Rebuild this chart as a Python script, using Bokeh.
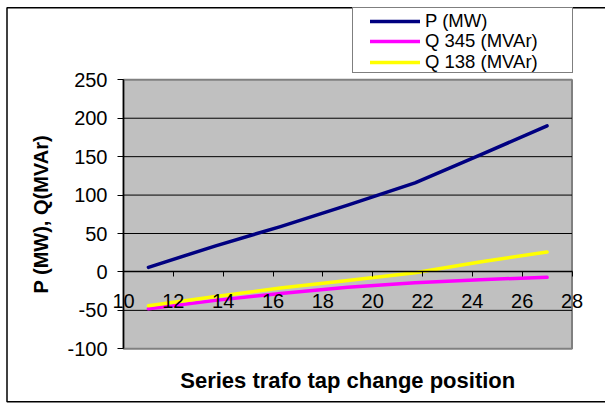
import math
from bokeh.plotting import figure
from bokeh.models import Range1d, FixedTicker, Legend, LegendItem, Label
from bokeh.embed import file_html
from bokeh.resources import INLINE

# ---- data ----
tap = [11, 13.7, 16.3, 19, 21.7, 24.3, 27]
p_mw = [6, 34, 59, 87, 116, 152, 190]
q345 = [-48, -37, -28, -20, -14, -10, -7]
q138 = [-44, -32, -21, -11, -1, 13, 26]
x_ticks = [10, 12, 14, 16, 18, 20, 22, 24, 26, 28]
y_ticks = [-100, -50, 0, 50, 100, 150, 200, 250]
series_names = ["P (MW)", "Q 345 (MVAr)", "Q 138 (MVAr)"]
x_title = "Series trafo tap change position"
y_title = "P (MW), Q(MVAr)"

FONT = "Liberation Sans"

# ---- layout (pixels on the 605x403 page) ----
W, H = 605, 403
PA_L, PA_R, PA_T, PA_B = 123.0, 571.5, 79.3, 348.3   # plot-area edges
X0, X1 = x_ticks[0], x_ticks[-1]
Y0, Y1 = y_ticks[0], y_ticks[-1]
xpp = (X1 - X0) / (PA_R - PA_L)        # data units per pixel
ypp = (Y1 - Y0) / (PA_B - PA_T)
x_start = X0 - PA_L * xpp
x_end = X0 + (W - PA_L) * xpp
y_top = Y1 + PA_T * ypp
y_bot = Y0 - (H - PA_B) * ypp

def px_x(px):
    return x_start + px * xpp

def px_y(py):
    return y_top - py * ypp

p = figure(width=W, height=H, x_range=Range1d(x_start, x_end), y_range=Range1d(y_bot, y_top),
           output_backend="svg", toolbar_location=None, min_border=0)
p.background_fill_color = "white"
p.border_fill_color = "white"
p.outline_line_color = None
p.xgrid.visible = False
p.ygrid.visible = False

# outer chart frame (left, top, bottom edges visible)
p.quad(left=px_x(6.5), right=px_x(640), top=px_y(7.3), bottom=px_y(401.3),
       fill_color=None, line_color="black", line_width=1.5)

# plot area
p.quad(left=X0, right=X1, bottom=Y0, top=Y1, fill_color="#C0C0C0",
       line_color="#808080", line_width=2)
grid_y = [t for t in y_ticks if Y0 < t < Y1 and t != 0]
p.segment(x0=[X0] * len(grid_y), x1=[X1] * len(grid_y), y0=grid_y, y1=grid_y,
          line_color="black", line_width=1)

# axes
p.axis.minor_tick_line_color = None
p.axis.major_label_text_font = FONT
p.axis.major_label_text_font_size = "20px"
p.axis.major_label_text_color = "black"
p.axis.axis_line_color = "black"
p.axis.axis_line_width = 1.5
p.axis.major_tick_line_color = "black"
p.axis.major_tick_in = 0

xa = p.xaxis[0]
xa.fixed_location = 0
xa.bounds = (X0, X1)
xa.ticker = FixedTicker(ticks=x_ticks)
xa.major_tick_out = 5
xa.major_label_standoff = 17

ya = p.yaxis[0]
ya.fixed_location = X0
ya.bounds = (Y0, Y1)
ya.ticker = FixedTicker(ticks=y_ticks)
ya.major_label_overrides = {t: str(t) for t in y_ticks}
ya.major_tick_out = 6
ya.major_label_standoff = 10

colors = ["#000080", "#FF00FF", "#FFFF00"]
renderers = []
for ys, c in zip([p_mw, q345, q138], colors):
    r = p.line(tap, ys, line_color=c, line_width=3.5, line_cap="round", line_join="round")
    renderers.append(r)

# titles
p.add_layout(Label(x=(X0 + X1) / 2, y=px_y(379.5), text=x_title, text_align="center",
                   text_baseline="middle", text_font=FONT, text_font_style="bold",
                   text_font_size="22px", text_color="black"))
p.add_layout(Label(x=px_x(40), y=px_y((PA_T + PA_B) / 2), text=y_title, angle=math.pi / 2,
                   text_align="center", text_baseline="middle", text_font=FONT,
                   text_font_style="bold", text_font_size="20px", text_color="black"))

# legend: a box plus one row per series
dummy = p.line([X0], [0], line_alpha=0)
box = Legend(items=[LegendItem(label=" ", renderers=[dummy])], location=(352, H - 73),
             padding=0, margin=0, glyph_width=1, glyph_height=64, label_height=64,
             label_width=218, label_standoff=0, border_line_color="black",
             border_line_width=1, background_fill_color="white", background_fill_alpha=1)
p.add_layout(box)

row_centers = [21.5, 42.3, 63.1]
for name, r, c in zip(series_names, renderers, row_centers):
    lg = Legend(items=[LegendItem(label=name, renderers=[r])], location=(370, H - (c + 10)),
                padding=0, margin=0, glyph_width=50, glyph_height=20, label_height=20,
                label_standoff=5, border_line_alpha=0, background_fill_alpha=0,
                label_text_font=FONT, label_text_font_size="18.5px", label_text_color="black")
    p.add_layout(lg)

open("out.html", "w").write(file_html(p, INLINE))
